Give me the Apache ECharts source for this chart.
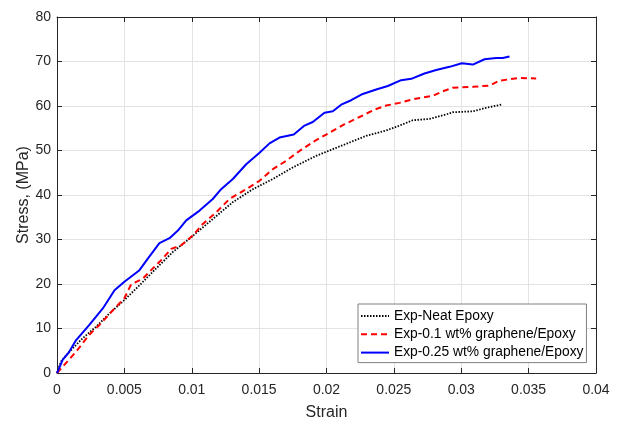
<!DOCTYPE html>
<html>
<head>
<meta charset="utf-8">
<script src="https://cdn.jsdelivr.net/npm/echarts@6/dist/echarts.min.js"></script>
<style>
html,body{margin:0;padding:0;background:#fff;}
#chart{width:624px;height:426px;}
</style>
</head>
<body>
<div id="chart"></div>
<script>
// Tick values
var xTicks = [0, 0.005, 0.01, 0.015, 0.02, 0.025, 0.03, 0.035, 0.04];
var yTicks = [0, 10, 20, 30, 40, 50, 60, 70, 80];

var seriesNames = ['Exp-Neat Epoxy', 'Exp-0.1 wt% graphene/Epoxy', 'Exp-0.25 wt% graphene/Epoxy'];

// Exp-Neat Epoxy
var strainNeat = [0, 0.0003, 0.00093, 0.0019, 0.0029, 0.0039, 0.005, 0.00612, 0.00736, 0.0086, 0.00996, 0.01156, 0.01305, 0.01453, 0.01602, 0.0175, 0.01923, 0.02047, 0.02171, 0.02295, 0.02443, 0.02542, 0.0264, 0.02764, 0.02888, 0.02937, 0.03086, 0.03185, 0.03296];
var stressNeat = [0, 2.6, 4.8, 7.8, 10.4, 13.4, 16.4, 19.7, 23.5, 27.2, 30.5, 34.6, 38.4, 41.3, 43.6, 46.2, 48.8, 50.3, 51.8, 53.3, 54.5, 55.6, 56.8, 57.1, 58.1, 58.6, 58.8, 59.6, 60.3];

// Exp-0.1 wt% graphene/Epoxy
var strainG01 = [0, 0.00056, 0.00142, 0.0024, 0.00315, 0.00427, 0.005, 0.0055, 0.00637, 0.00711, 0.00785, 0.00847, 0.00922, 0.01008, 0.01082, 0.01181, 0.0128, 0.01404, 0.01503, 0.01602, 0.01701, 0.018, 0.01911, 0.02022, 0.02134, 0.02257, 0.02356, 0.02443, 0.02542, 0.0264, 0.02789, 0.02863, 0.02937, 0.03086, 0.0321, 0.03284, 0.03432, 0.03556];
var stressG01 = [0, 1.9, 4.8, 8.6, 10.8, 14.5, 16.8, 19.9, 21.2, 23.5, 25.7, 27.9, 28.7, 30.9, 33.5, 36.1, 39.1, 41.3, 43.2, 45.8, 47.7, 49.9, 52.1, 54.0, 55.9, 57.7, 59.2, 60.1, 60.7, 61.5, 62.3, 63.3, 64.1, 64.3, 64.6, 65.7, 66.3, 66.2];

// Exp-0.25 wt% graphene/Epoxy
var strainG025 = [0, 0.00043, 0.00085, 0.00142, 0.0024, 0.0034, 0.00427, 0.005, 0.00612, 0.00674, 0.0076, 0.00835, 0.00897, 0.00959, 0.01058, 0.01156, 0.01218, 0.01305, 0.01404, 0.01503, 0.01577, 0.01651, 0.01757, 0.01837, 0.01898, 0.01985, 0.02047, 0.02109, 0.02183, 0.02269, 0.02369, 0.02455, 0.02554, 0.02629, 0.02727, 0.02814, 0.02913, 0.03004, 0.03086, 0.03173, 0.03259, 0.03308, 0.03358];
var stressG025 = [0, 3.0, 4.5, 7.4, 10.8, 14.5, 18.6, 20.5, 23.1, 25.7, 29.2, 30.3, 32.0, 34.3, 36.5, 39.1, 41.3, 43.6, 46.9, 49.5, 51.6, 52.9, 53.6, 55.6, 56.4, 58.5, 58.8, 60.3, 61.3, 62.7, 63.7, 64.5, 65.8, 66.1, 67.3, 68.1, 68.8, 69.6, 69.3, 70.5, 70.8, 70.8, 71.1];

function pairs(xs, ys) {
  return xs.map(function (x, i) { return [x, ys[i]]; });
}

var axisColor = '#262626';
var font = 'Liberation Sans, Arial, sans-serif';

var chart = echarts.init(document.getElementById('chart'), null, {renderer: 'canvas'});

var xCommon = {
  type: 'value',
  min: xTicks[0],
  max: xTicks[xTicks.length - 1],
  interval: 0.005,
  axisLine: {show: true, onZero: false, lineStyle: {color: axisColor, width: 1}},
  axisTick: {show: true, inside: true, length: 5, lineStyle: {color: axisColor}}
};
var yCommon = {
  type: 'value',
  min: yTicks[0],
  max: yTicks[yTicks.length - 1],
  interval: 10,
  axisLine: {show: true, onZero: false, lineStyle: {color: axisColor, width: 1}},
  axisTick: {show: true, inside: true, length: 5, lineStyle: {color: axisColor}}
};

var option = {
  backgroundColor: '#ffffff',
  animation: false,
  textStyle: {fontFamily: font},
  grid: {left: 57, right: 28, top: 17, bottom: 51, containLabel: false},
  xAxis: [
    Object.assign({}, xCommon, {
      position: 'bottom',
      name: 'Strain',
      nameLocation: 'middle',
      nameGap: 32,
      nameMoveOverlap: false,
      nameTextStyle: {color: axisColor, fontSize: 16, fontFamily: font},
      axisLabel: {
        color: axisColor, fontSize: 14, fontFamily: font, margin: 10,
        formatter: function (v) { return String(+v.toFixed(3)); }
      },
      splitLine: {show: true, lineStyle: {color: '#e3e3e3', width: 1}}
    }),
    Object.assign({}, xCommon, {
      position: 'top',
      axisLabel: {show: false},
      splitLine: {show: false}
    })
  ],
  yAxis: [
    Object.assign({}, yCommon, {
      position: 'left',
      name: 'Stress, (MPa)',
      nameLocation: 'middle',
      nameGap: 25,
      nameMoveOverlap: false,
      nameTextStyle: {color: axisColor, fontSize: 16, fontFamily: font},
      axisLabel: {color: axisColor, fontSize: 14, fontFamily: font, margin: 6},
      splitLine: {show: true, lineStyle: {color: '#e3e3e3', width: 1}}
    }),
    Object.assign({}, yCommon, {
      position: 'right',
      axisLabel: {show: false},
      splitLine: {show: false}
    })
  ],
  legend: {
    left: 358,
    top: 304,
    orient: 'vertical',
    backgroundColor: '#ffffff',
    borderColor: '#808080',
    borderWidth: 1,
    borderRadius: 0,
    padding: [5, 3, 3, 2],
    itemWidth: 28,
    itemHeight: 14,
    itemGap: 4.3,
    itemStyle: {color: 'transparent', borderColor: 'transparent', borderWidth: 0, opacity: 0},
    textStyle: {color: '#000000', fontSize: 13.8, fontFamily: font},
    data: seriesNames
  },
  series: [
    {
      name: seriesNames[0],
      type: 'line',
      symbol: 'none',
      data: pairs(strainNeat, stressNeat),
      lineStyle: {color: '#000000', width: 1.8, type: [1.5, 1.5]},
      itemStyle: {color: '#000000'},
      z: 3
    },
    {
      name: seriesNames[1],
      type: 'line',
      symbol: 'none',
      data: pairs(strainG01, stressG01),
      lineStyle: {color: '#ff0000', width: 2, type: [6, 4]},
      itemStyle: {color: '#ff0000'},
      z: 4
    },
    {
      name: seriesNames[2],
      type: 'line',
      symbol: 'none',
      data: pairs(strainG025, stressG025),
      lineStyle: {color: '#0000ff', width: 2, type: 'solid'},
      itemStyle: {color: '#0000ff'},
      z: 5
    }
  ]
};

chart.setOption(option);
</script>
</body>
</html>
